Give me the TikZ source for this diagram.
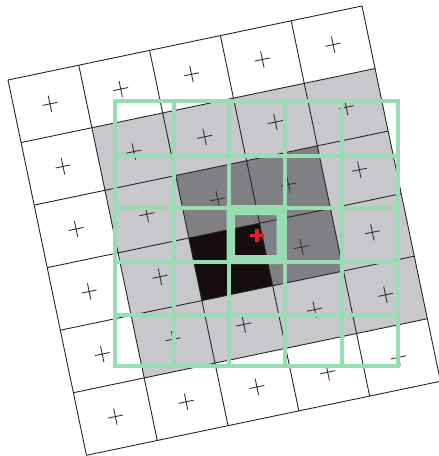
\documentclass[tikz,border=0pt]{standalone}
\definecolor{lgray}{RGB}{200,200,204}
\definecolor{mgray}{RGB}{128,128,132}
\definecolor{blk}{RGB}{22,14,14}
\definecolor{grn}{RGB}{152,220,178}
\definecolor{redp}{RGB}{232,30,40}
\begin{document}
\begin{tikzpicture}[x=1pt,y=1pt,
  gridline/.style={line width=0.9pt, black!85},
  plusmark/.style={line width=0.9pt, black!80},
  greenline/.style={grn, line width=4pt},
  redmark/.style={redp, line width=3.2pt}]
\useasboundingbox (0,0) rectangle (439,-456);
\clip (0,0) rectangle (439,-456);
\fill[white] (0,0) rectangle (439,-456);
% rotated grid of cells
\begin{scope}[shift={(8,-80)}, rotate=11.81, x=72.33pt, y=-63.9pt]
  \fill[lgray] (1,1) rectangle (5,5);
  \fill[mgray] (2,2) rectangle (4,4);
  \fill[blk] (2,3) rectangle (3,4);
  \foreach \i in {0,...,5} \draw[gridline] (\i,0) -- (\i,6);
  \foreach \j in {0,...,6} \draw[gridline] (0,\j) -- (5,\j);
  \foreach \i in {0,...,4} \foreach \j in {0,...,5} {
    \ifnum\i=2 \ifnum\j=3 \else
      \draw[plusmark] (\i+0.395,\j+0.5) -- (\i+0.605,\j+0.5) (\i+0.5,\j+0.37) -- (\i+0.5,\j+0.63);
    \fi\else
      \draw[plusmark] (\i+0.395,\j+0.5) -- (\i+0.605,\j+0.5) (\i+0.5,\j+0.37) -- (\i+0.5,\j+0.63);
    \fi
  }
\end{scope}
% axis-aligned green grid
\draw[greenline] (115,-101.3) rectangle (397.8,-365.7);
\foreach \x in {174,229,285,341.5} \draw[greenline] (\x,-101.3) -- (\x,-365.7);
\foreach \y in {156,208,262,314.7} \draw[greenline] (115,-\y) -- (397.8,-\y);
\fill[grn, even odd rule] (226.7,-205) rectangle (286.7,-264) (235,-215) rectangle (276.7,-255);
% red centre mark
\draw[redmark] (250,-235.6) -- (264,-235.6) (257,-229.3) -- (257,-242);
\end{tikzpicture}
\end{document}
